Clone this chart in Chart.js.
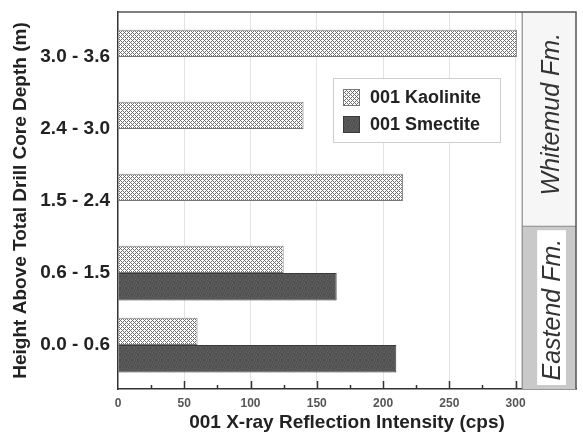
<!DOCTYPE html>
<html>
<head>
<meta charset="utf-8">
<script src="https://cdn.jsdelivr.net/npm/chart.js@4"></script>
<style>
html, body { margin: 0; padding: 0; background: #fff; }
canvas { display: block; }
</style>
</head>
<body>
<canvas id="grafico" width="583" height="435"></canvas>
<script>
// Intervalos de altura (de abajo hacia arriba)
const intervalos = ['0.0 - 0.6', '0.6 - 1.5', '1.5 - 2.4', '2.4 - 3.0', '3.0 - 3.6'];
// Intensidades 001 (cps)
const caolinita = [60, 125, 215, 140, 301];
const esmectita = [210, 165, null, null, null];
// Formaciones: límite sobre el eje de intervalos y comienzo del panel en el eje x
const formaciones = ['Eastend Fm.', 'Whitemud Fm.'];
const limiteFormacion = 1.65;
const inicioPanel = 305;

const fuente = "'Liberation Sans', Arial, Helvetica, sans-serif";

// Trama cuadriculada para la caolinita
function crearTramaCaolinita() {
    const c = document.createElement('canvas');
    c.width = 4; c.height = 4;
    const t = c.getContext('2d');
    t.fillStyle = '#ffffff';
    t.fillRect(0, 0, 4, 4);
    t.fillStyle = '#707070';
    for (let y = 0; y < 4; y++) {
        for (let x = 0; x < 4; x++) {
            if ((x + y) % 4 === 0 || (x - y + 4) % 4 === 0) t.fillRect(x, y, 1, 1);
        }
    }
    return c;
}

// Textura gris oscura para la esmectita
function crearTramaEsmectita() {
    const c = document.createElement('canvas');
    c.width = 6; c.height = 6;
    const t = c.getContext('2d');
    for (let y = 0; y < 6; y++) {
        for (let x = 0; x < 6; x++) {
            const g = 78 + ((x * 7 + y * 11) % 5) * 4;
            t.fillStyle = 'rgb(' + g + ',' + g + ',' + g + ')';
            t.fillRect(x, y, 1, 1);
        }
    }
    return c;
}

const ctx = document.getElementById('grafico').getContext('2d');
const tramaCaolinita = ctx.createPattern(crearTramaCaolinita(), 'repeat');
const tramaEsmectita = ctx.createPattern(crearTramaEsmectita(), 'repeat');

// Panel de formaciones a la derecha
const panelFormaciones = {
    id: 'panelFormaciones',
    afterDatasetsDraw(chart) {
        const { ctx, chartArea: a, scales: { x, y } } = chart;
        const x0 = x.getPixelForValue(inicioPanel);
        const yLim = y.getPixelForValue(limiteFormacion);
        ctx.save();
        ctx.fillStyle = '#f6f6f6';
        ctx.fillRect(x0, a.top, a.right - x0, yLim - a.top);
        ctx.fillStyle = '#c9c9c9';
        ctx.fillRect(x0, yLim, a.right - x0, a.bottom - yLim);
        ctx.fillStyle = '#ffffff';
        ctx.fillRect(x0 + 15, yLim + 4, a.right - x0 - 25, a.bottom - yLim - 8);

        ctx.strokeStyle = '#8a8a8a';
        ctx.lineWidth = 1.2;
        ctx.beginPath();
        ctx.moveTo(x0, a.top); ctx.lineTo(x0, a.bottom);
        ctx.moveTo(x0, yLim); ctx.lineTo(a.right, yLim);
        ctx.stroke();

        ctx.fillStyle = '#333';
        ctx.font = 'italic 25px ' + fuente;
        ctx.textAlign = 'center';
        ctx.textBaseline = 'middle';
        const escribir = (txt, cx, cy) => {
            ctx.save();
            ctx.translate(cx, cy);
            ctx.rotate(-Math.PI / 2);
            ctx.fillText(txt, 0, 0);
            ctx.restore();
        };
        escribir(formaciones[1], (x0 + a.right) / 2 + 3, (a.top + yLim) / 2 - 5);
        escribir(formaciones[0], x0 + 15 + (a.right - x0 - 25) / 2 + 1, (yLim + a.bottom) / 2 + 2);
        ctx.restore();
    },
    afterDraw(chart) {
        const { ctx, chartArea: a, scales: { x } } = chart;
        ctx.save();
        // marco superior y derecho
        ctx.strokeStyle = '#555';
        ctx.lineWidth = 1.5;
        ctx.beginPath();
        ctx.moveTo(a.left, a.top); ctx.lineTo(a.right, a.top); ctx.lineTo(a.right, a.bottom);
        ctx.stroke();
        // marcas del eje x hacia adentro
        ctx.strokeStyle = '#333';
        ctx.lineWidth = 1.5;
        ctx.beginPath();
        for (let v = 25; v <= 300; v += 25) {
            const px = Math.round(x.getPixelForValue(v)) + 0.5;
            const largo = v % 50 === 0 ? 8 : 4;
            ctx.moveTo(px, a.bottom);
            ctx.lineTo(px, a.bottom - largo);
        }
        ctx.stroke();
        ctx.restore();
    }
};

// Leyenda dentro del área del gráfico
const leyenda = {
    id: 'leyendaInterna',
    afterDraw(chart, args, opts) {
        const { ctx, chartArea: a } = chart;
        const bx = a.left + opts.x, by = a.top + opts.y;
        ctx.save();
        ctx.fillStyle = '#fff';
        ctx.fillRect(bx, by, 167, 64);
        ctx.strokeStyle = '#cfcfcf';
        ctx.lineWidth = 1;
        ctx.strokeRect(bx + 0.5, by + 0.5, 167, 64);
        ctx.font = 'bold 18px ' + fuente;
        ctx.textBaseline = 'middle';
        chart.data.datasets.forEach((ds, i) => {
            const cy = by + 19 + i * 27;
            ctx.fillStyle = ds.backgroundColor;
            ctx.fillRect(bx + 10, cy - 8, 16, 16);
            ctx.strokeStyle = ds.borderColor;
            ctx.strokeRect(bx + 10.5, cy - 7.5, 16, 16);
            ctx.fillStyle = '#222';
            ctx.fillText(ds.label, bx + 37, cy + 1);
        });
        ctx.restore();
    }
};

new Chart(ctx, {
    type: 'bar',
    data: {
        datasets: [{
            label: '001 Kaolinite',
            data: caolinita.map((v, i) => ({ x: v, y: i })),
            backgroundColor: tramaCaolinita,
            borderColor: '#777',
            borderWidth: 1,
            categoryPercentage: 0.76,
            barPercentage: 1
        }, {
            label: '001 Smectite',
            data: esmectita.map((v, i) => ({ x: v, y: i })),
            backgroundColor: tramaEsmectita,
            borderColor: '#3a3a3a',
            borderWidth: 1,
            categoryPercentage: 0.76,
            barPercentage: 1
        }]
    },
    options: {
        indexAxis: 'y',
        responsive: false,
        animation: false,
        layout: { padding: { top: 12, right: 1, bottom: 0, left: 0 } },
        plugins: {
            legend: { display: false },
            tooltip: { enabled: false },
            leyendaInterna: { x: 215, y: 66 }
        },
        scales: {
            x: {
                type: 'linear',
                min: 0,
                max: 345.6,
                afterFit: s => { s.height = 46; },
                grid: {
                    drawTicks: false,
                    lineWidth: 1,
                    color: c => (c.tick && c.tick.value > 0 && c.tick.value <= 300 && c.tick.value % 50 === 0) ? '#e3e3e3' : 'rgba(0,0,0,0)'
                },
                border: { display: true, color: '#333', width: 1.5 },
                ticks: {
                    stepSize: 25,
                    autoSkip: false,
                    maxRotation: 0,
                    padding: 7,
                    color: '#555',
                    font: { family: fuente, size: 12, weight: 'bold' },
                    callback: v => (v % 50 === 0 && v <= 300) ? String(v) : ''
                },
                title: {
                    display: true,
                    text: '001 X-ray Reflection Intensity (cps)',
                    color: '#222',
                    font: { family: fuente, size: 19, weight: 'bold' },
                    padding: { top: 0, bottom: 1 }
                }
            },
            y: {
                type: 'linear',
                offset: false,
                min: -0.61,
                max: 4.625,
                afterBuildTicks: s => { s.ticks = intervalos.map((_, i) => ({ value: i })); },
                afterFit: s => { s.width = 118; s.paddingTop = 0; s.paddingBottom = 0; },
                grid: { display: false, drawTicks: false, offset: false },
                border: { display: true, color: '#333', width: 1.5 },
                ticks: {
                    padding: 8,
                    color: '#222',
                    font: { family: fuente, size: 19, weight: 'bold' },
                    callback: v => intervalos[v]
                },
                title: {
                    display: true,
                    text: 'Height Above Total Drill Core Depth (m)',
                    color: '#222',
                    font: { family: fuente, size: 19, weight: 'bold' },
                    padding: { top: 9, bottom: 0 }
                }
            }
        }
    },
    plugins: [panelFormaciones, leyenda]
});
</script>
</body>
</html>
